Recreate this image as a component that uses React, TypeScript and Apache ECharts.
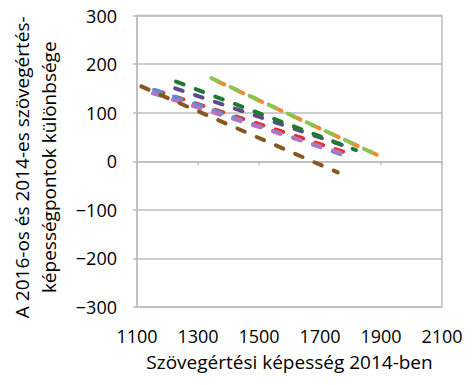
import React, { useEffect, useRef } from "react";
import * as echarts from "echarts";

const seriesNames = ["red", "blue", "pink", "purple", "darkgreen", "brown", "orange", "lightgreen"];
const seriesColors = ["#ee2b2b", "#5a8fd0", "#b774be", "#5e4a8a", "#1f7a31", "#85581f", "#f28a30", "#8cc453"];
const startX = [1162, 1156, 1152, 1225, 1228, 1114, 1362, 1344];
const startY = [146, 147, 140, 150, 164, 154, 165, 171];
const endX = [1800, 1784, 1774, 1784, 1818, 1758, 1898, 1898];
const endY = [15, 11, 16, 31, 23, -23, 10, 10];

const xTicks = [1100, 1300, 1500, 1700, 1900, 2100];
const yTicks = [-300, -200, -100, 0, 100, 200, 300];

const FONT = "Open Sans";

export default function App() {
  const ref = useRef<HTMLDivElement>(null);
  useEffect(() => {
    if (!ref.current) return;
    const chart = echarts.init(ref.current, undefined, { renderer: "svg" });
    const gridColor = "#bdbdbd";
    chart.setOption({
      animation: false,
      grid: {
        left: 135,
        right: 33,
        top: 15.5,
        bottom: 78,
        show: true,
        borderColor: gridColor,
        borderWidth: 1.5,
      },
      xAxis: [
        {
          type: "value",
          min: xTicks[0],
          max: xTicks[xTicks.length - 1],
          interval: 200,
          position: "bottom",
          axisLine: { show: false, onZero: false },
          axisTick: { show: false },
          splitLine: { show: false },
          axisLabel: {
            color: "#000",
            fontFamily: FONT,
            fontSize: 18,
            margin: 20,
            formatter: (v: number) => String(v),
          },
          name: "Szövegértési képesség 2014-ben",
          nameLocation: "middle",
          nameGap: 45,
          nameTextStyle: { color: "#000", fontFamily: FONT, fontSize: 19 },
        },
        {
          type: "value",
          min: xTicks[0],
          max: xTicks[xTicks.length - 1],
          interval: 200,
          position: "top",
          axisLine: { show: true, onZero: true, lineStyle: { color: gridColor, width: 1.5 } },
          axisTick: { show: true, inside: true, length: 4, lineStyle: { color: gridColor, width: 1.5 } },
          splitLine: { show: false },
          axisLabel: { show: false },
        },
      ],
      yAxis: {
        type: "value",
        min: yTicks[0],
        max: yTicks[yTicks.length - 1],
        interval: 100,
        axisLine: { show: true, onZero: false, lineStyle: { color: gridColor, width: 1.5 } },
        axisTick: { show: true, length: 4, lineStyle: { color: gridColor, width: 1.5 } },
        splitLine: { show: true, lineStyle: { color: gridColor, width: 1.5 } },
        axisLabel: {
          color: "#000",
          fontFamily: FONT,
          fontSize: 18,
          margin: 20,
          formatter: (v: number) => (v < 0 ? "\u2212" + Math.abs(v) : String(v)),
        },
        name: "A 2016-os és 2014-es szövegértés-\nképességpontok különbsége",
        nameLocation: "middle",
        nameRotate: 90,
        nameGap: 75,
        nameTextStyle: {
          color: "#000",
          fontFamily: FONT,
          fontSize: 19,
          lineHeight: 27,
          padding: [0, 12, 0, 0],
        },
      },
      series: seriesNames.map((n, i) => ({
        name: n,
        type: "line",
        xAxisIndex: 0,
        symbol: "none",
        data: [
          [startX[i], startY[i]],
          [endX[i], endY[i]],
        ],
        lineStyle: { color: seriesColors[i], width: 4, type: [8, 13], cap: "round" },
        z: 3 + i,
      })),
    });
    return () => chart.dispose();
  }, []);
  return <div ref={ref} style={{ width: 475, height: 385, position: "absolute", left: 0, top: 0 }} />;
}
